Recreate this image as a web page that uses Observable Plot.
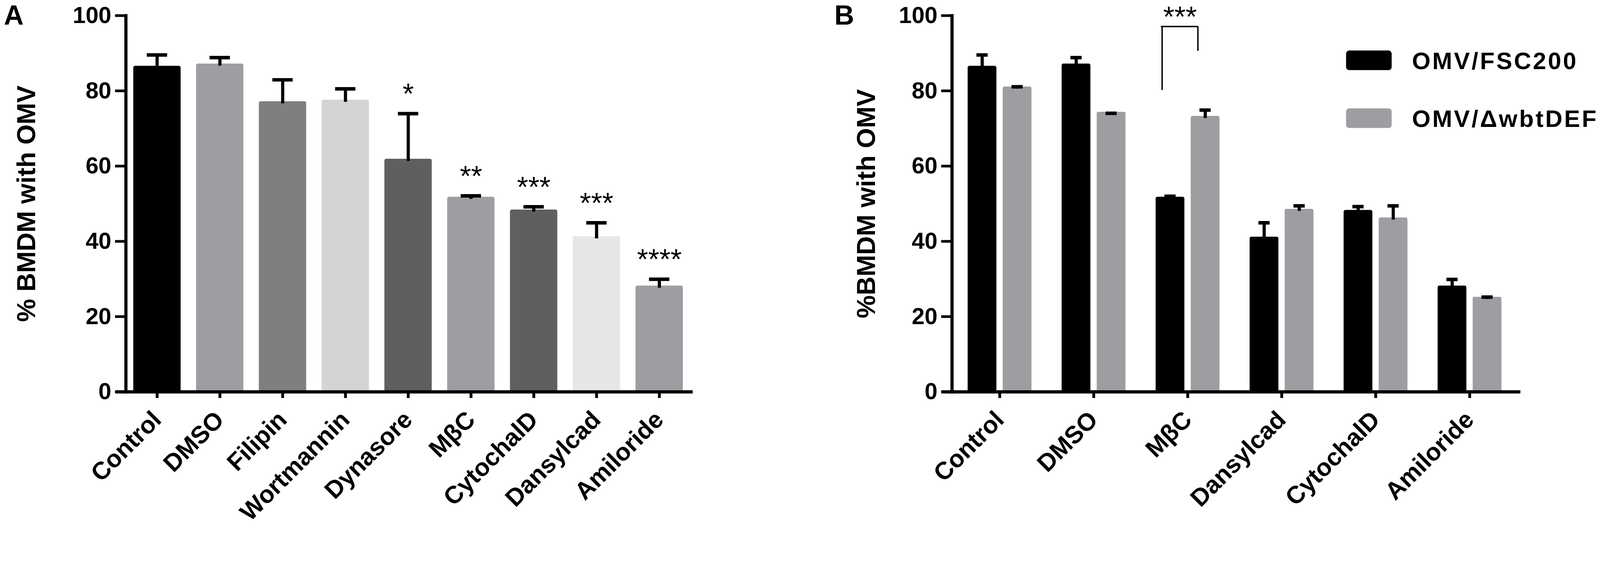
<!DOCTYPE html>
<html>
<head>
<meta charset="utf-8">
<script src="https://cdn.jsdelivr.net/npm/d3@7"></script>
<script src="https://cdn.jsdelivr.net/npm/@observablehq/plot@0.6"></script>
<style>
html, body { margin: 0; padding: 0; background: #fff; overflow: hidden; }
#root { position: absolute; left: 0; top: 0; width: 4562px; height: 1503px; display: flex; overflow: hidden;
        transform-origin: 0 0;
        font-family: "Liberation Sans", Arial, sans-serif; background: #fff; }
#root svg { flex: none; max-width: none; }
.panel-letter { position: absolute; font-weight: bold; font-size: 78px; line-height: 1; color: #000; }
.legend-swatch { position: absolute; width: 130px; height: 56px; border-radius: 9px; }
.legend-text { position: absolute; font-weight: bold; font-size: 68px; line-height: 1; letter-spacing: 5px; color: #000; white-space: nowrap; }
</style>
</head>
<body>
<div id="root"></div>
<script>
// ---------- Panel A data ----------
const categoriesA = ["Control", "DMSO", "Filipin", "Wortmannin", "Dynasore", "MβC", "CytochalD", "Dansylcad", "Amiloride"];
const meanA = [86.6, 87.2, 77.2, 77.6, 61.9, 51.8, 48.4, 41.3, 28.2];
const sdA   = [3.4, 2.1, 6.2, 3.4, 12.5, 0.75, 1.25, 4.1, 2.2];
const sigA  = ["", "", "", "", "*", "**", "***", "***", "****"];

// ---------- Panel B data ----------
const groupsB = ["Control", "DMSO", "MβC", "Dansylcad", "CytochalD", "Amiloride"];
const seriesB = ["OMV/FSC200", "OMV/ΔwbtDEF"];
const meanFSC = [86.6, 87.2, 51.8, 41.2, 48.3, 28.2];
const sdFSC   = [3.4, 2.1, 0.65, 4.2, 1.4, 2.15];
const meanWbt = [81.1, 74.4, 73.3, 48.6, 46.3, 25.2];
const sdWbt   = [0.45, 0.1, 2.05, 1.3, 3.6, 0.45];
const bracketB = [{group: "MβC", top: 97.1, leftEnd: 80.2, rightEnd: 90.6, label: "***"}];

const yTicks = [0, 20, 40, 60, 80, 100];

// ---------- styles ----------
const FONT = "'Liberation Sans', Arial, sans-serif";
const fillA = ["#000000", "#9e9ea2", "#7f7f7f", "#d4d4d4", "#5f5f5f", "#9e9ea2", "#5f5f5f", "#e6e6e6", "#9e9ea2"];
const fillB = ["#000000", "#9e9ea2"];

const dataA = categoriesA.map((c, i) => ({category: c, mean: meanA[i], sd: sdA[i], sig: sigA[i]}));
const dataFSC = groupsB.map((g, i) => ({group: g, series: seriesB[0], mean: meanFSC[i], sd: sdFSC[i]}));
const dataWbt = groupsB.map((g, i) => ({group: g, series: seriesB[1], mean: meanWbt[i], sd: sdWbt[i]}));
const errTop = d => d.mean + d.sd;

const common = {
  height: 1503,
  marginTop: 44,
  marginBottom: 386,
  y: {domain: [0, 100]},
  style: {fontFamily: FONT, fontWeight: "bold", background: "transparent", color: "#000"}
};

const xAxisOpts = {tickRotate: -45, tickSize: 18, tickPadding: 50, strokeWidth: 8, fontSize: 70, label: null};
const yAxisOpts = {ticks: yTicks, tickFormat: d => String(d), tickSize: 30.5, tickPadding: 11, strokeWidth: 7.6, fontSize: 66, label: null};

const plotA = Plot.plot({
  ...common,
  width: 2280,
  marginLeft: 358.5,
  marginRight: 311,
  x: {domain: categoriesA, paddingInner: 0.246, paddingOuter: 0.12},
  color: {domain: categoriesA, range: fillA},
  marks: [
    Plot.barY(dataA, {x: "category", y: "mean", fill: "category", rx: 5}),
    Plot.ruleX(dataA, {x: "category", y1: "mean", y2: errTop, dy: 6, stroke: "#000", strokeWidth: 9}),
    Plot.tickY(dataA, {x: "category", y: errTop, dy: 5, stroke: "#000", strokeWidth: 10, insetLeft: 38.5, insetRight: 38.5}),
    Plot.text(dataA.filter(d => d.sig), {x: "category", y: errTop, text: "sig", dy: -50, fontSize: 82, fontWeight: "normal", fill: "#000"}),
    Plot.axisY(yAxisOpts),
    Plot.axisX(xAxisOpts),
    Plot.frame({anchor: "left", stroke: "#000", strokeWidth: 9}),
    Plot.ruleY([0], {stroke: "#000", strokeWidth: 9, insetLeft: -30, insetRight: -6}),
    Plot.text(["% BMDM with OMV"], {frameAnchor: "left", textAnchor: "middle", rotate: -90, dx: -282, fontSize: 74, fill: "#000"})
  ]
});

const plotB = Plot.plot({
  ...common,
  width: 2282,
  marginLeft: 434,
  marginRight: 235,
  x: {domain: groupsB, paddingInner: 0.32, paddingOuter: 0.16},
  color: {domain: seriesB, range: fillB},
  marks: [
    Plot.barY(dataFSC, {x: "group", y: "mean", fill: "series", insetRight: 100, rx: 5}),
    Plot.barY(dataWbt, {x: "group", y: "mean", fill: "series", insetLeft: 100, rx: 5}),
    Plot.ruleX(dataFSC, {x: "group", y1: "mean", y2: errTop, dx: -50, dy: 6, stroke: "#000", strokeWidth: 9}),
    Plot.ruleX(dataWbt, {x: "group", y1: "mean", y2: errTop, dx: 50, dy: 6, stroke: "#000", strokeWidth: 9}),
    Plot.tickY(dataFSC, {x: "group", y: errTop, dy: 5, stroke: "#000", strokeWidth: 10, insetLeft: 25, insetRight: 125}),
    Plot.tickY(dataWbt, {x: "group", y: errTop, dy: 5, stroke: "#000", strokeWidth: 10, insetLeft: 125, insetRight: 25}),
    // significance bracket
    Plot.ruleX(bracketB, {x: "group", y1: "leftEnd", y2: "top", dx: -73, stroke: "#000", strokeWidth: 4}),
    Plot.ruleX(bracketB, {x: "group", y1: "rightEnd", y2: "top", dx: 29, stroke: "#000", strokeWidth: 4}),
    Plot.ruleY(bracketB, {x1: "group", x2: "group", y: "top", insetLeft: 15, insetRight: 62, stroke: "#000", strokeWidth: 4}),
    Plot.text(bracketB, {x: "group", y: "top", text: "label", dx: -22, dy: -26, fontSize: 82, fontWeight: "normal", fill: "#000"}),
    Plot.axisY(yAxisOpts),
    Plot.axisX(xAxisOpts),
    Plot.frame({anchor: "left", stroke: "#000", strokeWidth: 9}),
    Plot.ruleY([0], {stroke: "#000", strokeWidth: 9, insetLeft: -30, insetRight: -8}),
    Plot.text(["%BMDM with OMV"], {frameAnchor: "left", textAnchor: "middle", rotate: -90, dx: -243, fontSize: 74, fill: "#000"})
  ]
});

const root = document.getElementById("root");
root.appendChild(plotA);
root.appendChild(plotB);

// panel letters
[["A", 11, 4], ["B", 2379, 4]].forEach(([t, l, tp]) => {
  const d = document.createElement("div");
  d.className = "panel-letter";
  d.textContent = t;
  d.style.left = l + "px";
  d.style.top = tp + "px";
  root.appendChild(d);
});

// legend for panel B
const legendTops = [144, 309];
seriesB.forEach((s, i) => {
  const sw = document.createElement("div");
  sw.className = "legend-swatch";
  sw.style.left = "3838px";
  sw.style.top = legendTops[i] + "px";
  sw.style.background = fillB[i];
  root.appendChild(sw);
  const tx = document.createElement("div");
  tx.className = "legend-text";
  tx.textContent = s;
  tx.style.left = "4026px";
  tx.style.top = (legendTops[i] - 5) + "px";
  root.appendChild(tx);
});

// fit the 4562x1503 design into the actual viewport
function fit() {
  const s = Math.min(window.innerWidth / 4562, window.innerHeight / 1503);
  root.style.transform = "scale(" + s + ")";
}
fit();
window.addEventListener("resize", fit);
</script>
</body>
</html>
